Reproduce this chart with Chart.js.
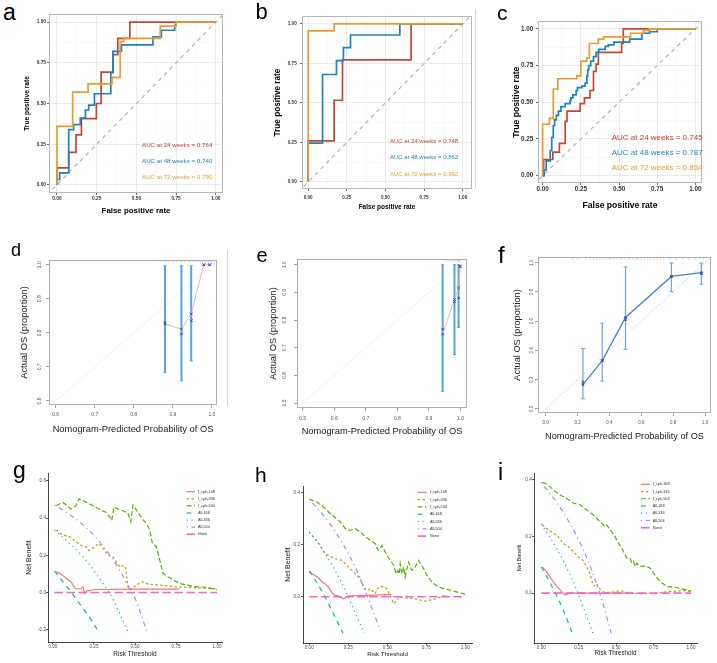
<!DOCTYPE html>
<html>
<head>
<meta charset="utf-8">
<script src="https://cdn.jsdelivr.net/npm/chart.js@4.4.1/dist/chart.umd.min.js"></script>
<style>
  html, body { margin: 0; background: #fff; }
  #fig { position: relative; width: 717px; height: 663px; overflow: hidden; font-family: "Liberation Sans", Arial, sans-serif; }
  #fig canvas { position: absolute; }
  .lab { position: absolute; line-height: 1; white-space: nowrap; }
  .rule { position: absolute; width: 1px; background: #d4d4d4; }
</style>
</head>
<body>
<div id="fig"></div>
<script>
// ---- ROC curves: [fpr, tpr] corners (step drawn horizontal then vertical) ----
const rocA24 = [[0,0],[0,0.104],[0.074,0.2],[0.12,0.307],[0.154,0.407],[0.248,0.5],[0.278,0.693],[0.354,0.8],[0.383,0.9],[0.459,1],[1,1]];
const rocA48 = [[0,0],[0,0.033],[0.017,0.074],[0.074,0.34],[0.105,0.37],[0.147,0.41],[0.179,0.46],[0.2,0.49],[0.236,0.56],[0.339,0.69],[0.352,0.82],[0.406,0.86],[0.604,0.91],[0.657,0.95],[0.741,0.98],[0.75,1],[1,1]];
const rocA72 = [[0,0],[0,0.36],[0.099,0.57],[0.196,0.62],[0.347,0.66],[0.398,0.88],[0.42,0.9],[0.65,0.975],[0.75,1],[1,1]];
const rocB24 = [[0,0],[0,0.26],[0.168,0.517],[0.222,0.772],[0.666,1],[1,1]];
const rocB48 = [[0,0],[0,0.245],[0.093,0.68],[0.183,0.768],[0.228,0.85],[0.274,0.93],[0.593,1],[1,1]];
const rocB72 = [[0,0],[0,0.956],[0.168,1],[1,1]];
const rocC24 = [[0,0],[0.007,0.11],[0.067,0.16],[0.11,0.22],[0.148,0.37],[0.16,0.44],[0.246,0.49],[0.274,0.53],[0.31,0.58],[0.333,0.71],[0.35,0.76],[0.365,0.84],[0.517,0.9],[0.528,1],[1,1]];
const rocC48 = [[0,0],[0.01,0.04],[0.024,0.1],[0.05,0.17],[0.06,0.26],[0.07,0.34],[0.078,0.38],[0.09,0.41],[0.104,0.44],[0.12,0.47],[0.148,0.49],[0.18,0.51],[0.185,0.53],[0.198,0.55],[0.22,0.58],[0.228,0.6],[0.257,0.61],[0.278,0.63],[0.29,0.68],[0.295,0.72],[0.302,0.75],[0.315,0.78],[0.333,0.81],[0.35,0.84],[0.367,0.86],[0.41,0.88],[0.43,0.89],[0.467,0.91],[0.57,0.93],[0.65,0.97],[0.7,0.98],[0.75,1],[1,1]];
const rocC72 = [[0,0],[0,0.35],[0.045,0.39],[0.07,0.59],[0.1,0.66],[0.224,0.68],[0.25,0.78],[0.289,0.8],[0.306,0.9],[0.365,0.93],[0.4,0.945],[0.576,0.97],[0.66,0.99],[0.7,1],[1,1]];
const rocDiag = [[-0.1,-0.1],[1.1,1.1]];
const weeks = [24, 48, 72];
const aucA = [0.764, 0.740, 0.790];
const aucB = [0.748, 0.862, 0.992];
const aucC = [0.745, 0.787, 0.854];
const rocTicks = [0, 0.125, 0.25, 0.375, 0.5, 0.625, 0.75, 0.875, 1];

// ---- calibration ----
const dPred = [0.88, 0.922, 0.947, 0.979, 0.994];
const dLo = [0.683, 0.659, 0.718, null, null];
const dHi = [0.997, 0.997, 0.997, null, null];
const dObs = [0.826, 0.811, 0.856, 1.0, 1.0];
const dCorr = [0.829, 0.797, 0.836, 1.0, 1.0];
const dRug = [0.86,0.87,0.88,0.885,0.89,0.9,0.905,0.91,0.92,0.925,0.93,0.94,0.945,0.95,0.955,0.96,0.965,0.97,0.975,0.98,0.985,0.99,0.995,1.0];
const ePred = [0.9435, 0.981, 0.994, 0.999];
const eLo = [0.542, 0.675, 0.773, null];
const eHi = [1.0, 1.0, 1.0, null];
const eObs = [0.749, 0.874, 0.916, 0.995];
const eCorr = [0.767, 0.866, 0.880, 0.993];
const eRug = [0.955,0.965,0.97,0.975,0.98,0.985,0.99,0.993,0.996,0.999];
const fPred = [0.234, 0.355, 0.501, 0.789, 0.977];
const fLo = [0.068, 0.19, 0.407, 0.801, 0.853];
const fHi = [0.412, 0.586, 0.971, 0.998, 0.998];
const fObs = [0.165, 0.33, 0.625, 0.906, 0.932];
const fCorr = [0.185, 0.33, 0.609, 0.906, 0.925];
const fRug = [0.17,0.2,0.25,0.28,0.3,0.32,0.34,0.36,0.38,0.4,0.41,0.43,0.45,0.47,0.48,0.5,0.52,0.53,0.55,0.57,0.58,0.6,0.62,0.64,0.66,0.68,0.7,0.72,0.74,0.78,0.82,0.86,0.9,0.94,0.97,0.99];
const calDiag = [[-0.1,-0.1],[1.1,1.1]];

// ---- decision curves: [threshold, net benefit] ----
const dcaNames = ['f_cph-168', 'f_cph-336', 'f_cph-504', 'All-168', 'All-336', 'All-504', 'None'];
const gCph168 = [[0.02,0.112],[0.045,0.1],[0.07,0.085],[0.09,0.07],[0.11,0.058],[0.125,0.035],[0.138,0.02],[0.173,0.02],[0.183,0.031],[0.193,-0.005],[0.207,0.009],[0.264,0.016],[0.5,0.018],[0.77,0.018]];
const gCph336 = [[0.02,0.336],[0.05,0.315],[0.08,0.304],[0.11,0.297],[0.14,0.273],[0.17,0.255],[0.2,0.246],[0.22,0.225],[0.25,0.243],[0.28,0.264],[0.31,0.232],[0.335,0.2],[0.366,0.192],[0.386,0.165],[0.41,0.135],[0.43,0.147],[0.443,0.13],[0.457,0.03],[0.467,0.013],[0.5,0.034],[0.54,0.058],[0.58,0.045],[0.65,0.04],[0.75,0.03],[0.85,0.027],[1.0,0.02]];
const gCph504 = [[0.02,0.466],[0.06,0.484],[0.08,0.471],[0.11,0.448],[0.14,0.466],[0.16,0.504],[0.19,0.491],[0.22,0.477],[0.26,0.459],[0.29,0.444],[0.325,0.43],[0.345,0.408],[0.358,0.387],[0.372,0.459],[0.396,0.448],[0.427,0.439],[0.457,0.426],[0.474,0.381],[0.488,0.471],[0.508,0.444],[0.528,0.417],[0.549,0.39],[0.569,0.372],[0.59,0.336],[0.606,0.264],[0.63,0.246],[0.646,0.192],[0.67,0.103],[0.7,0.085],[0.73,0.07],[0.77,0.049],[0.85,0.034],[0.935,0.027],[1.0,0.016]];
const gAll168 = [[0.01,0.115],[0.05,0.07],[0.1,0.015],[0.15,-0.045],[0.2,-0.105],[0.25,-0.17],[0.278,-0.212]];
const gAll336 = [[0.01,0.335],[0.1,0.265],[0.2,0.175],[0.3,0.055],[0.35,-0.01],[0.4,-0.1],[0.461,-0.22]];
const gAll504 = [[0.01,0.47],[0.1,0.42],[0.2,0.35],[0.3,0.255],[0.4,0.13],[0.48,0.0],[0.5,-0.03],[0.57,-0.205]];
const gNone = [[0.01,0],[1,0]];
const hCph168 = [[0,0.093],[0.013,0.091],[0.06,0.072],[0.085,0.056],[0.107,0.047],[0.124,0.037],[0.135,0.024],[0.15,0.012],[0.167,0.005],[0.188,0.003],[0.22,-0.008],[0.252,0.003],[0.38,0.005],[0.526,0.009]];
const hCph336 = [[0,0.25],[0.006,0.242],[0.038,0.223],[0.071,0.197],[0.103,0.165],[0.135,0.155],[0.167,0.146],[0.209,0.14],[0.241,0.121],[0.263,0.108],[0.284,0.095],[0.306,0.082],[0.327,0.069],[0.348,0.037],[0.37,0.024],[0.391,0.031],[0.423,0.012],[0.444,0.037],[0.466,0.04],[0.498,0.031],[0.513,0.012],[0.541,-0.027],[0.562,-0.014],[0.573,-0.001],[0.615,-0.004],[0.679,-0.008],[0.744,-0.017],[0.808,-0.008],[0.872,0.005]];
const hCph504 = [[0,0.375],[0.006,0.374],[0.049,0.364],[0.092,0.345],[0.124,0.326],[0.167,0.304],[0.199,0.288],[0.231,0.262],[0.263,0.255],[0.295,0.262],[0.327,0.249],[0.359,0.232],[0.391,0.217],[0.423,0.204],[0.434,0.188],[0.444,0.178],[0.466,0.197],[0.476,0.185],[0.498,0.159],[0.519,0.14],[0.541,0.121],[0.556,0.088],[0.568,0.101],[0.577,0.088],[0.583,0.127],[0.594,0.088],[0.605,0.114],[0.615,0.076],[0.626,0.108],[0.637,0.133],[0.658,0.101],[0.679,0.114],[0.701,0.14],[0.712,0.127],[0.733,0.108],[0.754,0.082],[0.786,0.056],[0.829,0.037],[0.893,0.027],[1.0,0.009]];
const hAll168 = [[0,0.1],[0.05,0.053],[0.1,0.0],[0.15,-0.059],[0.216,-0.14]];
const hAll336 = [[0,0.25],[0.1,0.167],[0.2,0.063],[0.25,0.0],[0.3,-0.07],[0.353,-0.14]];
const hAll504 = [[0,0.375],[0.1,0.306],[0.2,0.219],[0.3,0.107],[0.4,-0.042],[0.455,-0.13]];
const hNone = [[0,0],[1,0]];
const iCph168 = [[0.007,0.092],[0.034,0.076],[0.056,0.059],[0.078,0.041],[0.105,0.024],[0.134,0.006],[0.157,-0.006],[0.19,0.0],[0.3,0.0],[0.5,0.0],[0.615,0.0]];
const iCph336 = [[0.007,0.241],[0.045,0.224],[0.078,0.212],[0.112,0.2],[0.145,0.176],[0.179,0.165],[0.213,0.147],[0.246,0.129],[0.28,0.115],[0.302,0.094],[0.324,0.071],[0.342,0.035],[0.358,0.024],[0.369,0.033],[0.38,0.024],[0.396,0.012],[0.414,0.004],[0.459,0.002],[0.526,0.009],[0.593,0.0],[0.682,-0.002],[0.772,0.0],[0.861,0.006],[0.951,0.009],[1.0,0.006]];
const iCph504 = [[0.007,0.391],[0.045,0.382],[0.078,0.365],[0.123,0.347],[0.168,0.335],[0.212,0.318],[0.257,0.312],[0.302,0.294],[0.347,0.276],[0.38,0.259],[0.403,0.247],[0.425,0.235],[0.436,0.241],[0.459,0.224],[0.492,0.2],[0.515,0.176],[0.537,0.159],[0.57,0.124],[0.593,0.124],[0.604,0.106],[0.615,0.112],[0.626,0.094],[0.638,0.106],[0.66,0.094],[0.682,0.096],[0.705,0.094],[0.727,0.088],[0.749,0.071],[0.794,0.041],[0.839,0.024],[0.906,0.019],[1.0,0.008]];
const iAll168 = [[0,0.093],[0.05,0.045],[0.1,-0.007],[0.15,-0.064],[0.213,-0.15]];
const iAll336 = [[0,0.245],[0.1,0.16],[0.2,0.056],[0.25,-0.007],[0.3,-0.078],[0.351,-0.15]];
const iAll504 = [[0,0.39],[0.1,0.322],[0.2,0.237],[0.3,0.129],[0.4,-0.017],[0.47,-0.147]];
const iNone = [[0,0],[1,0]];

// ---- styling ----
const RED = '#C9452F', BLUE = '#1B84C4', ORANGE = '#EE9B2E';
const DCA_COLORS = ['#F8766D', '#C49A00', '#53B400', '#00C094', '#00B6EB', '#A58AFF', '#FB61D7'];
const DCA_DASH = [[], [2.4, 2.4], [4.8, 2.4], [4.8, 4.8], [1.2, 3.6], [1.2, 3.6, 4.8, 3.6], [8.4, 3.6]];
const STYLES = {
  roc: { tickColor: '#333', tickWeight: 'bold', titleColor: '#000', titleWeight: 'bold', frame: { color: '#b8b8b8', width: 1 } },
  cal: { tickColor: '#555', tickWeight: 'normal', titleColor: '#222', titleWeight: 'normal', tickLen: 3, tickMark: '#8a8a8a', frame: { color: '#a8a8a8', width: 0.9 } },
  dca: { tickColor: '#4d4d4d', tickWeight: 'normal', titleColor: '#222', titleWeight: 'normal', tickLen: 2, tickMark: '#333', axisLine: true }
};

Chart.defaults.font.family = '"Liberation Sans", Arial, sans-serif';

Chart.register({
  id: 'frame',
  afterDraw(chart, args, opts) {
    if (!opts.color) return;
    const { left, top, right, bottom } = chart.chartArea;
    const c = chart.ctx;
    c.save();
    c.strokeStyle = opts.color;
    c.lineWidth = opts.width;
    c.strokeRect(Math.round(left) + 0.5, Math.round(top) + 0.5, Math.round(right - left) - 1, Math.round(bottom - top) - 1);
    c.restore();
  }
});

// R-style y tick labels, turned parallel to the axis
Chart.register({
  id: 'rotY',
  afterDraw(chart, args, opts) {
    if (!opts.ticks) return;
    const c = chart.ctx, ys = chart.scales.y;
    c.save();
    c.font = opts.size + 'px "Liberation Sans", Arial';
    c.fillStyle = opts.color;
    c.textAlign = 'center';
    c.textBaseline = 'middle';
    opts.ticks.forEach(v => {
      c.save();
      c.translate(opts.x, ys.getPixelForValue(v));
      c.rotate(-Math.PI / 2);
      c.fillText(v.toFixed(opts.digits), 0, 0);
      c.restore();
    });
    c.restore();
  }
});

// ggplot-like legend keys drawn inside the panel
Chart.register({
  id: 'keyBox',
  afterDraw(chart, args, opts) {
    if (opts.step === undefined) return;
    const c = chart.ctx;
    chart.data.datasets.filter(d => d.label).forEach((d, i) => {
      const y = opts.y0 + i * opts.step;
      c.save();
      c.strokeStyle = d.borderColor;
      c.lineWidth = d.borderWidth;
      c.setLineDash(d.borderDash || []);
      c.beginPath();
      c.moveTo(opts.x1, y);
      c.lineTo(opts.x2, y);
      c.stroke();
      c.restore();
      c.fillStyle = '#333';
      c.font = opts.size + 'px "Liberation Sans", Arial';
      c.textBaseline = 'middle';
      c.fillText(d.label, opts.tx, y);
    });
  }
});

const fig = document.getElementById('fig');
const toXY = pts => pts.map(([x, y]) => ({ x, y }));
const zip = (xs, ys) => xs.map((x, i) => [x, ys[i]]);

function label(text, left, baseline, size, color, weight) {
  const s = document.createElement('span');
  s.className = 'lab';
  s.textContent = text;
  s.style.cssText = `left:${left}px;top:${baseline - 0.8465 * size}px;font-size:${size}px;color:${color || '#000'};font-weight:${weight || 'normal'}`;
  fig.appendChild(s);
}

function rule(left, top, height) {
  const d = document.createElement('div');
  d.className = 'rule';
  d.style.cssText = `left:${left}px;top:${top}px;height:${height}px`;
  fig.appendChild(d);
}

function line(pts, color, width, extra) {
  return Object.assign({ data: toXY(pts), showLine: true, borderColor: color, backgroundColor: color, borderWidth: width, pointRadius: 0, fill: false }, extra);
}

function axis(o, st, a, isX, size) {
  const minor = v => o.style === 'roc' && Math.abs(v * 4 - Math.round(v * 4)) > 1e-6;
  const tv = c => (c.tick ? c.tick.value : 0);
  const grid = o.style === 'roc' ? {
    color: c => minor(tv(c)) ? '#f3f3f3' : '#e6e6e6',
    lineWidth: c => minor(tv(c)) ? 0.5 : 0.8,
    tickLength: 2, tickWidth: 0.8,
    tickColor: c => minor(tv(c)) ? 'rgba(0,0,0,0)' : '#444'
  } : { drawOnChartArea: false, tickLength: st.tickLen, tickWidth: 0.8, tickColor: st.tickMark };
  return {
    type: 'linear', min: a.min, max: a.max,
    afterBuildTicks: s => { s.ticks = a.ticks.map(v => ({ value: v })); },
    afterFit: s => { if (isX) s.height = size; else s.width = size; },
    ticks: {
      display: !a.rotX, autoSkip: false, maxRotation: 0, minRotation: 0, padding: a.pad,
      color: st.tickColor, font: { size: o.tickSize, weight: st.tickWeight },
      callback: v => minor(v) ? '' : v.toFixed(a.digits)
    },
    grid,
    border: st.axisLine ? { display: true, color: '#333', width: 0.9 } : { display: false },
    title: { display: true, text: a.title, padding: 0, color: st.titleColor, font: { size: a.titleSize, weight: st.titleWeight } }
  };
}

function panel(o) {
  const st = STYLES[o.style];
  const padR = 4, padT = 4;
  const yW = Math.round(o.box.l - (o.y.titleX - 0.6 * o.y.titleSize));
  const xH = Math.round(o.x.titleY + 0.6 * o.x.titleSize - o.box.b);
  const left = o.box.l - yW, top = o.box.t - padT;
  const cv = document.createElement('canvas');
  cv.width = o.box.r - o.box.l + yW + padR;
  cv.height = o.box.b - o.box.t + padT + xH;
  cv.style.left = left + 'px';
  cv.style.top = top + 'px';
  fig.appendChild(cv);
  const plugins = { legend: { display: false }, tooltip: { enabled: false }, frame: st.frame || {} };
  if (o.y.rotX) plugins.rotY = { x: o.y.rotX - left, ticks: o.y.ticks, digits: o.y.digits, size: o.tickSize, color: st.tickColor };
  if (o.key) plugins.keyBox = { x1: o.key.x1 - left, x2: o.key.x2 - left, tx: o.key.tx - left, y0: o.key.y0 - top, step: o.key.step, size: o.key.size };
  return new Chart(cv, {
    type: 'scatter',
    data: { datasets: o.datasets },
    options: {
      responsive: false, animation: false,
      layout: { padding: { left: 0, top: padT, right: padR, bottom: 0 } },
      plugins,
      scales: { x: axis(o, st, o.x, true, xH), y: axis(o, st, o.y, false, yW) }
    }
  });
}

function rocSets(c24, c48, c72) {
  return [
    line(c72, ORANGE, 1.7, { stepped: 'before', order: 1 }),
    line(c48, BLUE, 1.7, { stepped: 'before', order: 2 }),
    line(c24, RED, 1.7, { stepped: 'before', order: 3 }),
    line(rocDiag, '#b4b4b4', 1.2, { borderDash: [4, 4], order: 4 })
  ];
}

function calSets(pred, lo, hi, obs, corr, rug, rugY, thin) {
  const bar = thin ? '#6FA3DC' : '#55A6DB';
  const sets = [];
  pred.forEach((x, i) => {
    if (lo[i] === null) return;
    sets.push(line([[x, lo[i]], [x, hi[i]]], bar, thin ? 1.2 : 2, { pointStyle: 'line', pointRadius: thin ? 2 : 1.5, pointBorderColor: bar, pointBorderWidth: 1, order: 3 }));
  });
  if (thin) {
    sets.push(line(zip(pred, obs), '#4A84C6', 1.3, { pointStyle: 'rect', pointRadius: 1.4, pointBackgroundColor: '#2F5FB8', pointBorderColor: '#2F5FB8', pointBorderWidth: 0.5, order: 2 }));
    sets.push(line(calDiag, '#bdbdbd', 0.8, { borderDash: [1.5, 2], order: 5 }));
  } else {
    sets.push(line(zip(pred, obs), '#E6A4A4', 0.8, { pointStyle: 'crossRot', pointRadius: 1.8, pointBorderColor: '#6a3d6a', pointBorderWidth: 0.9, order: 2 }));
    sets.push(line(calDiag, '#ececec', 0.8, { order: 5 }));
  }
  sets.push({ data: toXY(zip(pred, corr)), showLine: false, pointStyle: 'crossRot', pointRadius: 1.8, pointBorderColor: '#3b3bdc', pointBorderWidth: 1, order: 1 });
  sets.push({ data: rug.map(x => ({ x, y: rugY })), showLine: false, pointStyle: 'line', rotation: 90, pointRadius: 1.4, pointBorderColor: '#b3b3b3', pointBorderWidth: 0.6, order: 6 });
  return sets;
}

function dcaSets(series) {
  return series.map((pts, i) => line(pts, DCA_COLORS[i], i === 6 ? 1.7 : 1.2, {
    label: dcaNames[i], borderDash: DCA_DASH[i], order: 7 - i,
    cubicInterpolationMode: (i >= 3 && i <= 5) ? 'monotone' : 'default'
  }));
}

// ---- row 1: ROC ----
panel({
  style: 'roc', box: { l: 49, t: 14, r: 223, b: 193 }, tickSize: 4.8,
  x: { min: -0.05, max: 1.045, ticks: rocTicks, digits: 2, title: 'False positive rate', titleSize: 7.9, titleY: 211, pad: 0.3 },
  y: { min: -0.05, max: 1.05, ticks: rocTicks, digits: 2, title: 'True positive rate', titleSize: 6.6, titleX: 26.7, pad: 1 },
  datasets: rocSets(rocA24, rocA48, rocA72)
});
panel({
  style: 'roc', box: { l: 302, t: 14, r: 472, b: 189 }, tickSize: 4.6,
  x: { min: -0.04, max: 1.06, ticks: rocTicks, digits: 2, title: 'False positive rate', titleSize: 6.5, titleY: 207, pad: 3.7 },
  y: { min: -0.045, max: 1.05, ticks: rocTicks, digits: 2, title: 'True positive rate', titleSize: 8.2, titleX: 278.3, pad: 3.3 },
  datasets: rocSets(rocB24, rocB48, rocB72)
});
panel({
  style: 'roc', box: { l: 538, t: 19, r: 702, b: 183 }, tickSize: 6.3,
  x: { min: -0.03, max: 1.043, ticks: rocTicks, digits: 2, title: 'False positive rate', titleSize: 8.6, titleY: 205.7, pad: 0.5 },
  y: { min: -0.05, max: 1.05, ticks: rocTicks, digits: 2, title: 'True positive rate', titleSize: 8.6, titleX: 515.7, pad: 2.7 },
  datasets: rocSets(rocC24, rocC48, rocC72)
});

// ---- row 2: calibration ----
const calX = 'Nomogram-Predicted Probability of OS', calY = 'Actual OS (proportion)';
panel({
  style: 'cal', box: { l: 49, t: 259, r: 218, b: 405 }, tickSize: 5,
  x: { min: 0.583, max: 1.013, ticks: [0.6, 0.7, 0.8, 0.9, 1.0], digits: 1, title: calX, titleSize: 9.3, titleY: 429, pad: 3.7 },
  y: { min: 0.588, max: 1.014, ticks: [0.6, 0.7, 0.8, 0.9, 1.0], digits: 1, title: calY, titleSize: 9.3, titleX: 25, rotX: 39.3 },
  datasets: calSets(dPred, dLo, dHi, dObs, dCorr, dRug, 1.011, false)
});
panel({
  style: 'cal', box: { l: 297, t: 258, r: 468, b: 408 }, tickSize: 5,
  x: { min: 0.482, max: 1.0207, ticks: [0.5, 0.6, 0.7, 0.8, 0.9, 1.0], digits: 1, title: calX, titleSize: 9.3, titleY: 431, pad: 5 },
  y: { min: 0.482, max: 1.0205, ticks: [0.5, 0.6, 0.7, 0.8, 0.9, 1.0], digits: 1, title: calY, titleSize: 9.3, titleX: 274, rotX: 285 },
  datasets: calSets(ePred, eLo, eHi, eObs, eCorr, eRug, 1.016, false)
});
panel({
  style: 'cal', box: { l: 538, t: 256, r: 712, b: 413 }, tickSize: 4.5,
  x: { min: -0.048, max: 1.0375, ticks: [0, 0.2, 0.4, 0.6, 0.8, 1.0], digits: 1, title: calX, titleSize: 9.2, titleY: 436, pad: 3.7 },
  y: { min: -0.029, max: 1.039, ticks: [0, 0.2, 0.4, 0.6, 0.8, 1.0], digits: 1, title: calY, titleSize: 9.2, titleX: 518, rotX: 532 },
  datasets: calSets(fPred, fLo, fHi, fObs, fCorr, fRug, 1.03, true)
});

// ---- row 3: decision curves ----
panel({
  style: 'dca', box: { l: 48, t: 473, r: 222, b: 642 }, tickSize: 4.6,
  x: { min: -0.03, max: 1.03, ticks: [0, 0.25, 0.5, 0.75, 1], digits: 2, title: 'Risk Threshold', titleSize: 6.5, titleY: 654, pad: 0.3 },
  y: { min: -0.266, max: 0.642, ticks: [-0.2, 0, 0.2, 0.4, 0.6], digits: 1, title: 'Net Benefit', titleSize: 7, titleX: 29, pad: 0 },
  key: { x1: 186.7, x2: 195, tx: 198, y0: 491.7, step: 7.1, size: 3.8 },
  datasets: dcaSets([gCph168, gCph336, gCph504, gAll168, gAll336, gAll504, gNone])
});
panel({
  style: 'dca', box: { l: 303, t: 486, r: 472, b: 643 }, tickSize: 4.6,
  x: { min: -0.04, max: 1.043, ticks: [0, 0.25, 0.5, 0.75, 1], digits: 2, title: 'Risk Threshold', titleSize: 6.1, titleY: 654.3, pad: 0.3 },
  y: { min: -0.178, max: 0.426, ticks: [0, 0.2, 0.4], digits: 1, title: 'Net Benefit', titleSize: 7, titleX: 288, pad: 1 },
  key: { x1: 417.7, x2: 426.7, tx: 430, y0: 492.3, step: 7.3, size: 3.8 },
  datasets: dcaSets([hCph168, hCph336, hCph504, hAll168, hAll336, hAll504, hNone])
});
panel({
  style: 'dca', box: { l: 534, t: 473, r: 697, b: 643 }, tickSize: 4.6,
  x: { min: -0.049, max: 1.04, ticks: [0, 0.25, 0.5, 0.75, 1], digits: 2, title: 'Risk Threshold', titleSize: 6.3, titleY: 653.3, pad: 0.3 },
  y: { min: -0.176, max: 0.424, ticks: [0, 0.2, 0.4], digits: 1, title: 'Net Benefit', titleSize: 5.4, titleX: 519, pad: 0.3 },
  key: { x1: 641, x2: 650, tx: 652.7, y0: 484.3, step: 7.23, size: 3.8 },
  datasets: dcaSets([iCph168, iCph336, iCph504, iAll168, iAll336, iAll504, iNone])
});

// ---- AUC notes ----
const aucColors = [RED, BLUE, ORANGE];
[[aucA, 142, [147.3, 163.3, 179], 6.2], [aucB, 390, [143.3, 158.7, 175.7], 6], [aucC, 611.7, [140.7, 155.7, 170.7], 8]]
  .forEach(([vals, x, ys, size]) => vals.forEach((v, i) =>
    label(`AUC at ${weeks[i]} weeks = ${v.toFixed(3)}`, x, ys[i], size, aucColors[i])));

// ---- panel letters ----
[['a', 3, 20, 23], ['b', 255.5, 19.3, 22], ['c', 497, 19.3, 21],
 ['d', 11, 256.7, 18], ['e', 256.5, 261.7, 20], ['f', 498, 263.3, 24],
 ['g', 13, 478.6, 23], ['h', 255, 481.7, 21], ['i', 498, 480, 23]]
  .forEach(([t, x, y, s]) => label(t, x, y, s));

rule(475, 9, 179);
rule(227, 250, 156);
</script>
</body>
</html>
